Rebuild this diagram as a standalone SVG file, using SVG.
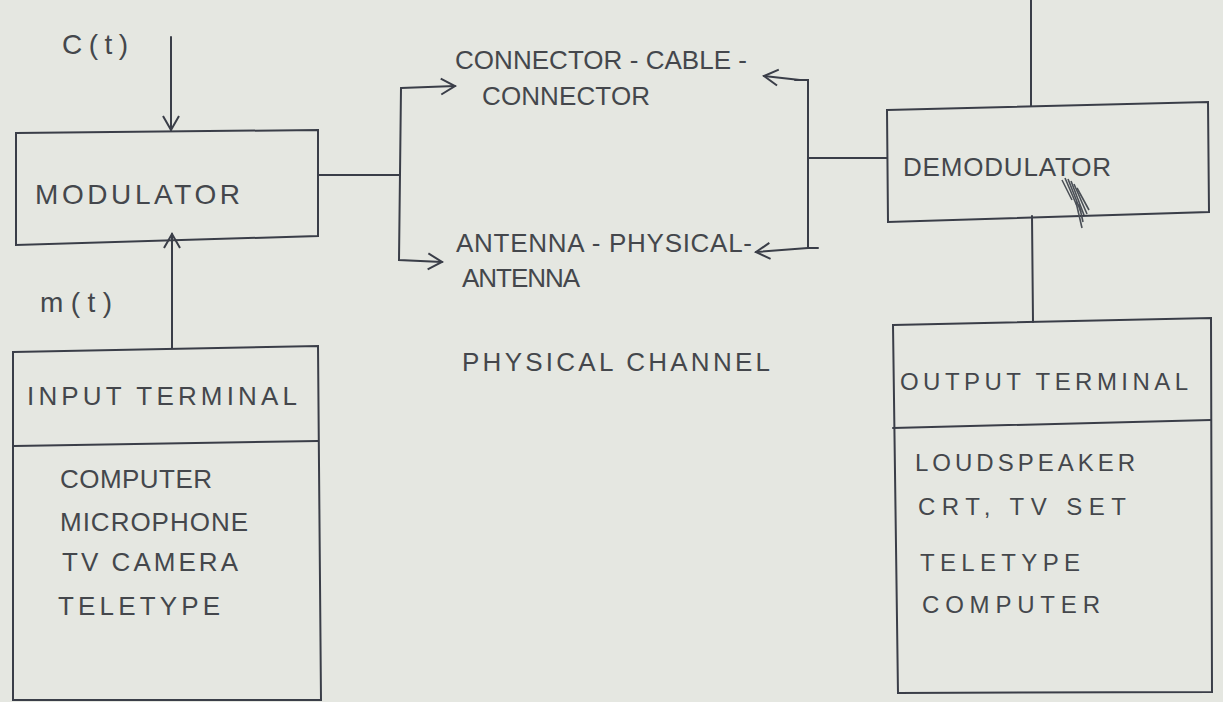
<svg xmlns="http://www.w3.org/2000/svg" width="1223" height="702" viewBox="0 0 1223 702">
<style>
.ln{fill:none;stroke:#3a3e48;stroke-width:2;stroke-linecap:round}
.box{fill:none;stroke:#3a3e48;stroke-width:2}
.t{font-family:"Liberation Sans",Arial,sans-serif;fill:#44474c;font-weight:normal}
.l{font-size:28px}
.m{font-size:26px}
.s{font-size:24px}
.hatch{stroke:#4a4f56;stroke-width:1.6}
</style>
<defs>
<marker id="v" markerWidth="20" markerHeight="20" refX="16" refY="10" orient="auto" markerUnits="userSpaceOnUse">
<path d="M2,2 L16,10 L2,18" fill="none" stroke="#3a3e48" stroke-width="2"/>
</marker>
</defs>
<rect width="1223" height="702" fill="#e5e7e1"/>

<g id="connectors">
<line class="ln" x1="171" y1="37" x2="171" y2="130" marker-end="url(#v)"/>
<line class="ln" x1="172" y1="348" x2="172" y2="234" marker-end="url(#v)"/>
<polyline class="ln" points="318,175 399,175"/>
<polyline class="ln" points="401,88 399,260 442,262" marker-end="url(#v)"/>
<line class="ln" x1="401" y1="88" x2="455" y2="86" marker-end="url(#v)"/>
<polyline class="ln" points="795,80 808,80 808,248 818,248"/>
<line class="ln" x1="800" y1="80" x2="764" y2="76" marker-end="url(#v)"/>
<line class="ln" x1="808" y1="248" x2="756" y2="252" marker-end="url(#v)"/>
<line class="ln" x1="808" y1="158" x2="887" y2="158"/>
<line class="ln" x1="1031" y1="0" x2="1031" y2="106"/>
<line class="ln" x1="1032" y1="216" x2="1033" y2="322"/>
</g>

<g id="modulator">
<polygon class="box" points="16,133 318,130 318,236 16,245"/>
<text class="t l" x="35" y="204" textLength="205" lengthAdjust="spacing">MODULATOR</text>
</g>

<g id="c-label"><text class="t l" x="62" y="54" textLength="66" lengthAdjust="spacing">C(t)</text></g>
<g id="m-label"><text class="t l" x="40" y="312" textLength="72" lengthAdjust="spacing">m(t)</text></g>

<g id="cable">
<text class="t m" x="455" y="69" textLength="292" lengthAdjust="spacing">CONNECTOR - CABLE -</text>
<text class="t m" x="482" y="105" textLength="168" lengthAdjust="spacing">CONNECTOR</text>
</g>

<g id="antenna">
<text class="t m" x="456" y="252" textLength="296" lengthAdjust="spacing">ANTENNA - PHYSICAL-</text>
<text class="t m" x="462" y="287" textLength="118" lengthAdjust="spacing">ANTENNA</text>
</g>

<g id="channel-label">
<text class="t m" x="462" y="371" textLength="308" lengthAdjust="spacing">PHYSICAL  CHANNEL</text>
</g>

<g id="demodulator">
<polygon class="box" points="887,110 1208,102 1209,212 888,222"/>
<text class="t m" x="903" y="176" textLength="208" lengthAdjust="spacing">DEMODULATOR</text>
<g class="hatch">
<line x1="1062" y1="180" x2="1072" y2="200"/>
<line x1="1065" y1="178" x2="1077" y2="206"/>
<line x1="1068" y1="179" x2="1081" y2="212"/>
<line x1="1071" y1="181" x2="1084" y2="215"/>
<line x1="1074" y1="184" x2="1087" y2="214"/>
<line x1="1077" y1="188" x2="1089" y2="210"/>
<line x1="1076" y1="202" x2="1082" y2="228"/>
<line x1="1079" y1="204" x2="1083" y2="222"/>
</g>
</g>

<g id="input-terminal">
<polygon class="box" points="13,352 318,346 321,700 13,700"/>
<line class="ln" x1="14" y1="446" x2="318" y2="441"/>
<text class="t m" x="27" y="405" textLength="270" lengthAdjust="spacing">INPUT TERMINAL</text>
<text class="t m" x="60" y="488" textLength="152" lengthAdjust="spacing">COMPUTER</text>
<text class="t m" x="60" y="531" textLength="188" lengthAdjust="spacing">MICROPHONE</text>
<text class="t m" x="62" y="571" textLength="176" lengthAdjust="spacing">TV CAMERA</text>
<text class="t m" x="58" y="615" textLength="162" lengthAdjust="spacing">TELETYPE</text>
</g>

<g id="output-terminal">
<polygon class="box" points="893,325 1211,318 1212,692 898,693"/>
<line class="ln" x1="893" y1="428" x2="1211" y2="420"/>
<text class="t s" x="900" y="390" textLength="288" lengthAdjust="spacing">OUTPUT TERMINAL</text>
<text class="t s" x="915" y="471" textLength="220" lengthAdjust="spacing">LOUDSPEAKER</text>
<text class="t s" x="918" y="515" textLength="208" lengthAdjust="spacing">CRT, TV SET</text>
<text class="t s" x="920" y="571" textLength="160" lengthAdjust="spacing">TELETYPE</text>
<text class="t s" x="922" y="613" textLength="178" lengthAdjust="spacing">COMPUTER</text>
</g>
</svg>
